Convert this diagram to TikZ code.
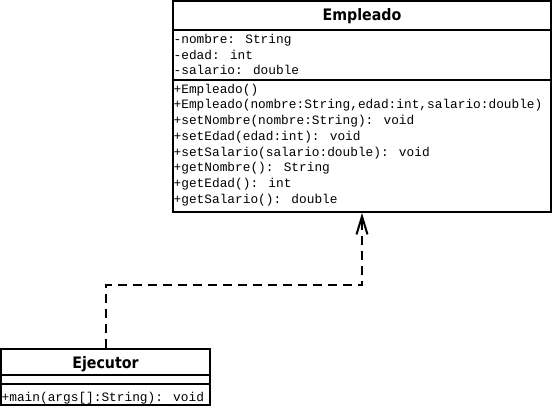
\documentclass[tikz,border=0pt]{standalone}
\usepackage{fontspec}
\usetikzlibrary{arrows.meta}
\newfontfamily\memberfont{Liberation Mono}
\newfontfamily\titlefont{DejaVu Sans Condensed Bold}
\tikzset{
  classbox/.style={draw, line width=2pt, inner sep=0pt, anchor=north west},
  divider/.style={line width=2pt},
  member/.style={anchor=base west, inner sep=0pt, font=\memberfont\fontsize{12.8}{15}\selectfont},
  classtitle/.style={anchor=base, inner sep=0pt, font=\titlefont\fontsize{15.8}{18}\selectfont},
  realization/.style={line width=2pt, dash pattern=on 9pt off 6pt,
    -{Straight Barb[length=18pt, width=11pt, line width=2pt]}}
}
\begin{document}
\begin{tikzpicture}[x=1pt,y=-1pt]
\useasboundingbox (0,0) rectangle (553,407);
% Empleado
\node[classbox, minimum width=378pt, minimum height=211pt] (emp) at (172,0) {};
\draw[divider] (173,29.5) -- (551,29.5);
\draw[divider] (173,80) -- (551,80);
\node[classtitle] (empt) at (362,20.7) {Empleado};
\node[member] (a1) at (173.5,43.3) {-nombre: String};
\node[member] (a2) at (173.5,59) {-edad: int};
\node[member] (a3) at (173.5,74.7) {-salario: double};
\node[member] (m1) at (173.5,93) {+Empleado()};
\node[member] (m2) at (173.5,108.75) {+Empleado(nombre:String,edad:int,salario:double)};
\node[member] (m3) at (173.5,124.5) {+setNombre(nombre:String): void};
\node[member] (m4) at (173.5,140.25) {+setEdad(edad:int): void};
\node[member] (m5) at (173.5,156) {+setSalario(salario:double): void};
\node[member] (m6) at (173.5,171.75) {+getNombre(): String};
\node[member] (m7) at (173.5,187.5) {+getEdad(): int};
\node[member] (m8) at (173.5,203.25) {+getSalario(): double};
% Ejecutor
\node[classbox, minimum width=209pt, minimum height=56pt] (ejec) at (0,348) {};
\draw[divider] (1,374.5) -- (210,374.5);
\draw[divider] (1,383.5) -- (210,383.5);
\node[classtitle] (ejt) at (105.5,368.3) {Ejecutor};
\node[member] (e1) at (1.5,401.3) {+main(args[]:String): void};
% realization
\draw[realization] (ejec.north) -- ++(0,-63) -| (emp.south);
\end{tikzpicture}
\end{document}
